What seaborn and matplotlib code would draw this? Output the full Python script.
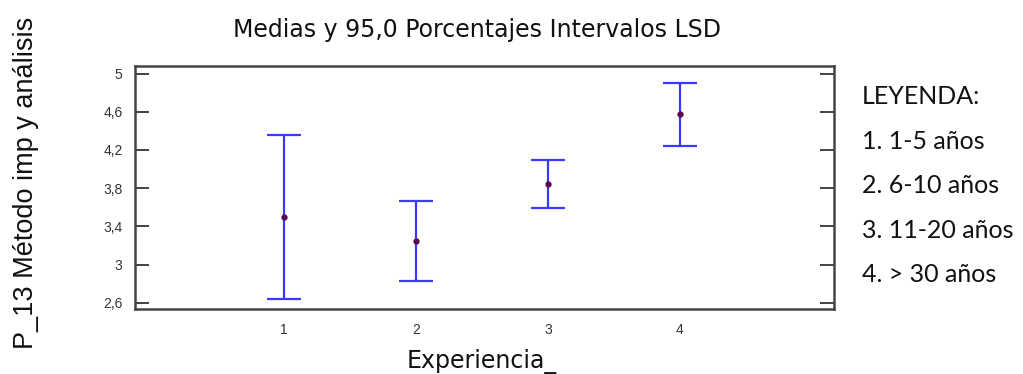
import matplotlib
matplotlib.use("Agg")
import matplotlib.pyplot as plt
import seaborn as sns
import pandas as pd

# Mean score per experience group with 95% LSD interval half-widths
groups = ["1", "2", "3", "4"]
means = [3.50, 3.25, 3.845, 4.575]
half_widths = [0.86, 0.42, 0.25, 0.33]
y_ticks = [2.6, 3.0, 3.4, 3.8, 4.2, 4.6, 5.0]
y_tick_labels = ["2,6", "3", "3,4", "3,8", "4,2", "4,6", "5"]
legend_lines = ["LEYENDA:", "1. 1-5 años", "2. 6-10 años", "3. 11-20 años", "4. > 30 años"]

sns.set_style("white")
plt.rcParams["font.family"] = ["Liberation Sans", "DejaVu Sans"]

df = pd.DataFrame({"Experiencia_": groups, "media": means})

W, H = 1023, 374
fig = plt.figure(figsize=(W / 100, H / 100), dpi=100)
ax = fig.add_axes([135 / W, 1 - 309 / H, 699 / W, 243 / H])

# LSD intervals
ax.errorbar(range(len(groups)), means, yerr=half_widths, fmt="none",
            ecolor="#3a3aff", elinewidth=1.6, capsize=12, capthick=1.6, zorder=2)
# Group means
sns.pointplot(data=df, x="Experiencia_", y="media", ax=ax, linestyle="none",
              color="#5a0a4a", markers="o", errorbar=None, markersize=2.5, zorder=3)

ax.set_xlim(-1.13, 4.17)
ax.set_ylim(2.534, 5.08)
ax.set_yticks(y_ticks)
ax.set_yticklabels(y_tick_labels)
ax.tick_params(axis="y", direction="in", length=10, width=1.2, color="#222222",
               left=True, right=True, labelsize=10, labelcolor="#333333", pad=9)
ax.tick_params(axis="x", length=0, labelsize=10, labelcolor="#333333", pad=10)

for side in ["left", "right", "top", "bottom"]:
    ax.spines[side].set_visible(True)
    ax.spines[side].set_color("#444444")
    ax.spines[side].set_linewidth(1.8)

ax.set_xlabel("")
ax.set_ylabel("")
fig.text(482 / W, 1 - 368 / H, "Experiencia_", fontsize=17, color="#111111",
         family=["DejaVu Sans"], ha="center", va="baseline")
fig.text(33 / W, 1 - 182.5 / H, "P_13 Método imp y análisis", rotation=90,
         rotation_mode="anchor", fontsize=19.5, color="#111111",
         ha="center", va="baseline")
fig.text(477 / W, 1 - 37 / H, "Medias y 95,0 Porcentajes Intervalos LSD",
         fontsize=17, color="#111111", family=["DejaVu Sans"],
         ha="center", va="baseline")

legend_baselines = [103.5, 149, 193.5, 238, 282.5]
for text, yp in zip(legend_lines, legend_baselines):
    fig.text(862 / W, 1 - yp / H, text, fontsize=18, color="#111111",
             family=["Lato", "DejaVu Sans"], ha="left", va="baseline")

fig.savefig("out.png", dpi=100)
